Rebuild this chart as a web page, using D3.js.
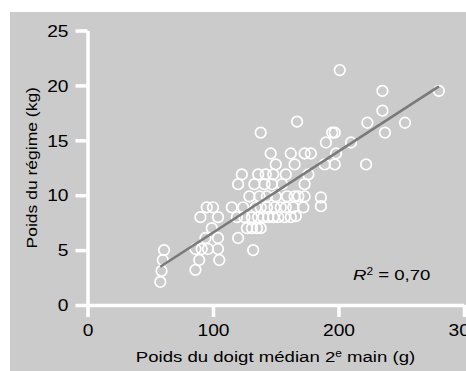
<!DOCTYPE html>
<html>
<head>
<meta charset="utf-8">
<script src="https://cdn.jsdelivr.net/npm/d3@7"></script>
<style>
  body { margin: 0; background: #fff; }
  svg { display: block; font-family: 'Liberation Sans', Arial, Helvetica, sans-serif; }
</style>
</head>
<body>
<div id="chart"></div>
<script>
// poids du doigt médian (g) et poids du régime (kg)
const poidsDoigt = [
  58, 59, 60, 61, 86, 86, 89, 90, 91, 94, 95, 96, 99, 100, 104, 104, 104, 105,
  115, 124,
  119, 125, 131, 136, 140, 144, 148, 152, 157, 162, 166,
  127, 131, 135, 138,
  120, 132,
  134, 138, 143, 149, 154, 158, 164, 172, 186,
  129, 137, 143, 150, 159, 165, 168, 173, 186,
  120, 133, 141, 147, 155, 173,
  123, 136, 142, 148, 158, 176,
  150, 165, 189, 197, 222,
  146, 162, 173, 178, 198,
  190, 210,
  138, 195, 197, 237,
  167, 223, 253,
  235,
  235, 280,
  201
];
const poidsRegime = [
  2.1, 3.1, 4.1, 5.0, 3.2, 5.1, 4.1, 8.0, 5.1, 6.1, 8.9, 5.1, 7.0, 8.9, 8.0, 6.1, 5.1, 4.1,
  8.9, 8.9,
  8.0, 8.0, 8.0, 8.0, 8.0, 8.0, 8.0, 8.0, 8.0, 8.0, 8.1,
  7.0, 7.0, 7.0, 7.0,
  6.1, 5.0,
  8.9, 8.9, 8.9, 8.9, 8.9, 8.9, 8.9, 8.9, 9.0,
  9.9, 9.9, 9.9, 9.9, 9.9, 9.9, 9.9, 9.9, 9.8,
  11.0, 11.0, 11.0, 11.0, 11.0, 11.0,
  11.9, 11.9, 11.9, 11.9, 11.9, 11.9,
  12.8, 12.8, 12.8, 12.8, 12.8,
  13.8, 13.8, 13.8, 13.8, 13.8,
  14.8, 14.8,
  15.7, 15.7, 15.7, 15.7,
  16.7, 16.6, 16.6,
  17.7,
  19.5, 19.5,
  21.4
];
const xTicks = [0, 100, 200, 300];
const yTicks = [0, 5, 10, 15, 20, 25];
// droite de régression
const penteReg = 0.074;
const ordonneeReg = -0.81;
const etendueReg = [58, 280];
const r2Label = '0,70';

const W = 466, H = 371;
const stretch = 1.2; // le texte de la figure est plus large que haut

const svg = d3.select('#chart')
  .append('svg')
  .attr('width', W)
  .attr('height', H);

// fond gris
svg.append('rect')
  .attr('x', 10)
  .attr('y', 12)
  .attr('width', W - 10)
  .attr('height', H - 12)
  .attr('fill', '#cbcbcb');

const x = d3.scaleLinear().domain([0, 300]).range([87.5, 464]);
const y = d3.scaleLinear().domain([0, 25]).range([305, 30.5]);

const xAxis = svg.append('g')
  .attr('transform', `translate(0,${y(0)})`)
  .call(d3.axisBottom(x).tickValues(xTicks).tickSize(12).tickSizeOuter(0).tickPadding(8));

const yAxis = svg.append('g')
  .attr('transform', `translate(${x(0)},0)`)
  .call(d3.axisLeft(y).tickValues(yTicks).tickSize(12).tickSizeOuter(0).tickPadding(7));

[xAxis, yAxis].forEach(ax => {
  ax.select('.domain').attr('stroke', '#fff').attr('stroke-width', 3.5);
  ax.selectAll('.tick line').attr('stroke', '#fff').attr('stroke-width', 3.5);
  ax.selectAll('.tick text')
    .attr('fill', '#000')
    .style('font-size', '16px')
    .style('font-family', "'Liberation Sans', Arial, sans-serif");
});
xAxis.selectAll('.tick text')
  .attr('transform', `scale(${stretch},1)`);
yAxis.selectAll('.tick text')
  .attr('x', 0)
  .attr('dy', '0.36em')
  .attr('transform', `translate(-19,0) scale(${stretch},1)`);

// points
const points = poidsDoigt.map((d, i) => ({ doigt: d, regime: poidsRegime[i] }));

svg.append('g')
  .selectAll('circle')
  .data(points)
  .enter()
  .append('circle')
  .attr('cx', d => x(d.doigt))
  .attr('cy', d => y(d.regime))
  .attr('r', 5.3)
  .attr('fill', 'none')
  .attr('stroke', '#fff')
  .attr('stroke-width', 1.7);

// droite
svg.append('path')
  .datum(etendueReg)
  .attr('d', d3.line()
    .x(d => x(d))
    .y(d => y(ordonneeReg + penteReg * d)))
  .attr('stroke', '#7a7a7a')
  .attr('stroke-width', 2.6)
  .attr('fill', 'none');

// R2
const r2 = svg.append('text')
  .attr('transform', `translate(353,280) scale(${stretch},1)`)
  .attr('fill', '#000')
  .style('font-size', '15.5px');
r2.append('tspan').style('font-style', 'italic').text('R');
r2.append('tspan').attr('dy', -5).style('font-size', '10px').text('2');
r2.append('tspan').attr('dy', 5).text(` = ${r2Label}`);

// titres des axes
const xCap = svg.append('text')
  .attr('transform', `translate(275.5,361.5) scale(${stretch},1)`)
  .attr('text-anchor', 'middle')
  .attr('fill', '#000')
  .style('font-size', '15.5px');
xCap.append('tspan').text('Poids du doigt médian 2');
xCap.append('tspan').attr('dy', -5).style('font-size', '10px').text('e');
xCap.append('tspan').attr('dy', 5).text(' main (g)');

svg.append('text')
  .attr('transform', `translate(36.5,${(y(0) + y(25)) / 2}) rotate(-90) scale(1.13,1)`)
  .attr('text-anchor', 'middle')
  .attr('fill', '#000')
  .style('font-size', '15.5px')
  .text('Poids du régime (kg)');
</script>
</body>
</html>
